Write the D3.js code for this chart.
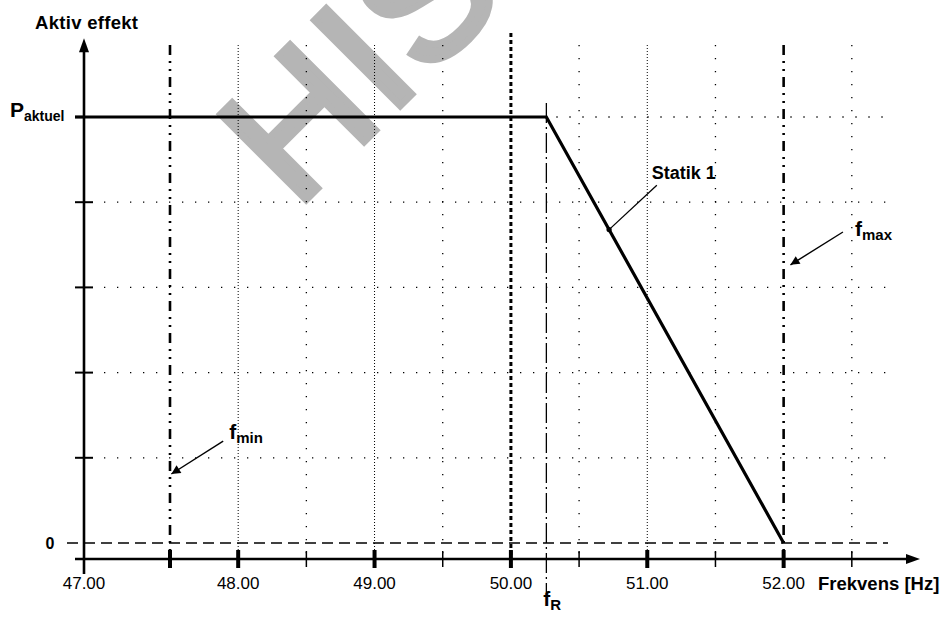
<!DOCTYPE html>
<html><head><meta charset="utf-8">
<script src="https://cdn.jsdelivr.net/npm/d3@7"></script>
<style>body{margin:0;background:#fff}svg{display:block;font-family:"Liberation Sans",Arial,sans-serif}</style>
</head><body><svg id="c" width="944" height="617"></svg>
<script>
// ---- data ----
const xTickValues = [47, 48, 49, 50, 51, 52];
const xTickLabels = ["47.00", "48.00", "49.00", "50.00", "51.00", "52.00"];
const xMajorTicks = [47.5, 48, 49, 50, 51, 52];
const xMinorTicks = [48.5, 49.5, 50.5, 51.5, 52.5];
const gridFine = [48, 49, 51];
const gridSparse = [48.5, 49.5, 50.5, 51.5, 52.5];
const yGridValues = [0.2, 0.4, 0.6, 0.8];
const fMin = 47.5, fMax = 52, fR = 50.26, fNominal = 50;
const curveX = [47, 50.26, 52];
const curveP = [1, 1, 0];
const statikX = 50.72;

const svg = d3.select("#c");
const x = d3.scaleLinear().domain([47, 47.5, 53]).range([84, 170, 920]);
const y = d3.scaleLinear().domain([0, 1]).range([543, 117]);
const axisY = y(0) + 16;
const yTop = y(1.185);
const gridTop = 45;

// watermark
svg.append("text").attr("transform", "translate(296,210) rotate(-45)")
  .attr("font-size", 176).attr("fill", "#b5b5b5").attr("stroke", "#b5b5b5").attr("stroke-width", 7)
  .attr("stroke-linejoin", "miter").attr("letter-spacing", 4)
  .text("HIS");

// vertical grid
gridFine.forEach(v => svg.append("line").attr("x1", x(v)).attr("x2", x(v)).attr("y1", gridTop).attr("y2", axisY)
  .attr("stroke", "#000").attr("stroke-width", 1).attr("stroke-dasharray", "1,2"));
gridSparse.forEach(v => svg.append("line").attr("x1", x(v)).attr("x2", x(v)).attr("y1", gridTop).attr("y2", axisY)
  .attr("stroke", "#000").attr("stroke-width", 1.3).attr("stroke-dasharray", "1.3,11.7"));
// horizontal grid
yGridValues.forEach(v => svg.append("line").attr("x1", 104).attr("x2", 890).attr("y1", y(v)).attr("y2", y(v))
  .attr("stroke", "#000").attr("stroke-width", 1.3).attr("stroke-dasharray", "1.3,11.7"));
svg.append("line").attr("x1", x(fR) + 10).attr("x2", 890).attr("y1", y(1)).attr("y2", y(1))
  .attr("stroke", "#000").attr("stroke-width", 1.3).attr("stroke-dasharray", "1.3,11.7");

// zero dashed line
svg.append("line").attr("x1", 67).attr("x2", 888).attr("y1", y(0)).attr("y2", y(0))
  .attr("stroke", "#000").attr("stroke-width", 1.3).attr("stroke-dasharray", "11,6");

// special vertical lines
svg.append("line").attr("x1", x(fNominal)).attr("x2", x(fNominal)).attr("y1", 33).attr("y2", axisY)
  .attr("stroke", "#000").attr("stroke-width", 3).attr("stroke-dasharray", "4,3");
[fMin, fMax].forEach(v => svg.append("line").attr("x1", x(v)).attr("x2", x(v)).attr("y1", gridTop).attr("y2", axisY + 8)
  .attr("stroke", "#000").attr("stroke-width", 2.6).attr("stroke-dasharray", "10,6,2,6,2,6"));
svg.append("line").attr("x1", x(fR)).attr("x2", x(fR)).attr("y1", 103).attr("y2", 592)
  .attr("stroke", "#000").attr("stroke-width", 1.3).attr("stroke-dasharray", "20,4,2,4");

// axes
svg.append("line").attr("x1", x(47)).attr("x2", x(47)).attr("y1", axisY + 15).attr("y2", yTop + 8)
  .attr("stroke", "#000").attr("stroke-width", 2.6);
svg.append("path").attr("d", `M${x(47)},${yTop} l-5,14 l10,0 z`).attr("fill", "#000");
svg.append("line").attr("x1", 75).attr("x2", x(53) - 8).attr("y1", axisY).attr("y2", axisY)
  .attr("stroke", "#000").attr("stroke-width", 2.6);
svg.append("path").attr("d", `M${x(53)},${axisY} l-14,-5 l0,10 z`).attr("fill", "#000");

// y ticks
yGridValues.concat([1]).forEach(v => svg.append("line").attr("x1", x(47) - 9).attr("x2", x(47) + 9)
  .attr("y1", y(v)).attr("y2", y(v)).attr("stroke", "#000").attr("stroke-width", 2));
// x ticks
xMajorTicks.forEach(v => svg.append("line").attr("x1", x(v)).attr("x2", x(v)).attr("y1", axisY - 9).attr("y2", axisY + 9)
  .attr("stroke", "#000").attr("stroke-width", 4));
xMinorTicks.forEach(v => svg.append("line").attr("x1", x(v)).attr("x2", x(v)).attr("y1", axisY - 8).attr("y2", axisY + 8)
  .attr("stroke", "#000").attr("stroke-width", 1.5));
xTickValues.forEach((v, i) => svg.append("text").attr("x", x(v)).attr("y", axisY + 30).attr("text-anchor", "middle")
  .attr("font-size", 17).text(xTickLabels[i]));

// curve
const pts = curveX.map((v, i) => [v, curveP[i]]);
svg.append("path").attr("d", d3.line().x(d => x(d[0])).y(d => y(d[1]))(pts))
  .attr("fill", "none").attr("stroke", "#000").attr("stroke-width", 3.2).attr("stroke-linejoin", "miter");
svg.append("line").attr("x1", 75).attr("x2", x(47)).attr("y1", y(1)).attr("y2", y(1)).attr("stroke", "#000").attr("stroke-width", 3.2);

// statik annotation
const statikP = d3.scaleLinear().domain([curveX[1], curveX[2]]).range([curveP[1], curveP[2]])(statikX);
svg.append("circle").attr("cx", x(statikX)).attr("cy", y(statikP)).attr("r", 2.6).attr("fill", "#000");
svg.append("line").attr("x1", x(statikX)).attr("y1", y(statikP)).attr("x2", x(51.07)).attr("y2", y(0.84))
  .attr("stroke", "#000").attr("stroke-width", 1.3);
svg.append("text").attr("x", x(51.07) - 5).attr("y", y(0.84) - 6).attr("font-size", 18).attr("font-weight", "bold").text("Statik 1");

// arrows
svg.append("defs").append("marker").attr("id", "ah").attr("viewBox", "0 0 10 10").attr("refX", 10).attr("refY", 5)
  .attr("markerWidth", 12).attr("markerHeight", 9).attr("markerUnits", "userSpaceOnUse").attr("orient", "auto")
  .append("path").attr("d", "M0,0 L10,5 L0,10 z").attr("fill", "#000");
function arrow(x1, p1, x2, p2) {
  svg.append("line").attr("x1", x(x1)).attr("y1", y(p1)).attr("x2", x(x2)).attr("y2", y(p2))
    .attr("stroke", "#000").attr("stroke-width", 1.4).attr("marker-end", "url(#ah)");
}
arrow(47.89, 0.239, 47.51, 0.162);
arrow(52.435, 0.73, 52.05, 0.653);

function subLabel(px, py, main, sub, size, subSize) {
  const t = svg.append("text").attr("x", px).attr("y", py).attr("font-weight", "bold").attr("font-size", size);
  t.append("tspan").text(main);
  t.append("tspan").attr("font-size", subSize).attr("dy", 4).text(sub);
}
subLabel(x(47.89) + 6, y(0.239) - 2, "f", "min", 21, 15);
subLabel(x(52.435) + 12, y(0.73) + 4, "f", "max", 21, 15);
subLabel(x(fR) - 3, 606, "f", "R", 21, 15);
subLabel(10, 117, "P", "aktuel", 21, 14);

svg.append("text").attr("x", 35).attr("y", 29).attr("font-size", 18.5).attr("letter-spacing", 0.3).attr("font-weight", "bold").text("Aktiv effekt");
svg.append("text").attr("x", 50).attr("y", y(0) + 6).attr("text-anchor", "middle").attr("font-size", 16).attr("font-weight", "bold").text("0");
svg.append("text").attr("x", 818).attr("y", axisY + 31).attr("font-size", 18.5).attr("font-weight", "bold").text("Frekvens [Hz]");
</script></body></html>
